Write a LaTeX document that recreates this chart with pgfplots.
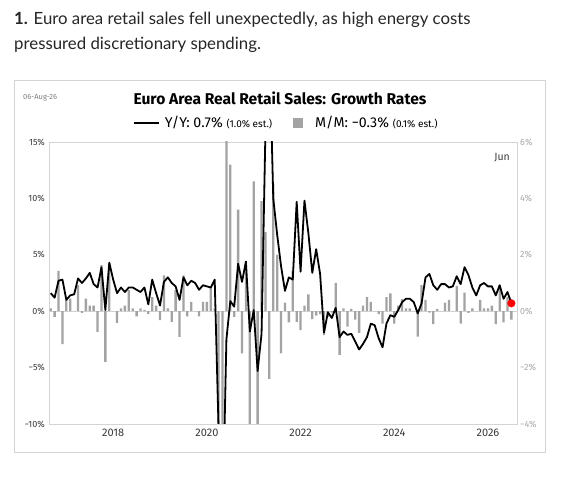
\documentclass[border=0pt]{standalone}
\usepackage{fontspec}
\setmainfont{Fira Sans}
\newfontfamily\capfont{Lato}
\usepackage{pgfplots}
\usepackage{pgfplotstable}
\pgfplotsset{compat=1.18}
\definecolor{bargray}{HTML}{A3A3A3}
\definecolor{framegray}{HTML}{D4D4D4}
\definecolor{ticktxt}{HTML}{3A3A3A}
\definecolor{rtick}{HTML}{A8A8A8}

% date (end of month), Y/Y %, M/M %
\pgfplotstableread{
x yy mm
2016.667 1.6 0.1
2016.750 1.2 -0.2
2016.833 2.7 1.43
2016.917 2.8 -1.17
2017.000 1.0 0.4
2017.083 1.4 0.45
2017.167 1.5 0.0
2017.250 2.9 0.92
2017.333 2.5 -0.06
2017.417 2.9 0.45
2017.500 3.4 0.2
2017.583 2.4 0.2
2017.667 2.1 -0.73
2017.750 3.9 1.63
2017.833 0.1 -1.8
2017.917 4.3 1.71
2018.000 2.8 0.0
2018.083 1.6 -0.41
2018.167 2.1 0.1
2018.250 1.7 0.2
2018.333 2.1 0.75
2018.417 2.1 0.1
2018.500 1.9 -0.18
2018.583 1.7 0.1
2018.667 2.1 0.05
2018.750 0.6 -0.1
2018.833 2.8 0.5
2018.917 1.6 0.2
2019.000 0.5 -0.32
2019.083 2.6 1.27
2019.167 3.0 0.1
2019.250 2.5 -0.38
2019.333 2.2 0.75
2019.417 1.0 -0.91
2019.500 3.0 1.27
2019.583 2.3 -0.18
2019.667 2.7 0.33
2019.750 2.5 0.0
2019.833 1.9 -0.18
2019.917 2.3 0.33
2020.000 2.2 0.33
2020.083 2.1 0.85
2020.167 2.8 0.1
2020.250 -10.5 -11
2020.333 -19 -12
2020.417 -2.5 19
2020.500 0.9 5.2
2020.583 0.4 -0.2
2020.667 4.2 3.6
2020.750 2.6 -1.5
2020.833 4.4 1.4
2020.917 -1.8 -6
2021.000 0.1 4.6
2021.083 -5.3 -6
2021.167 -2.0 3.9
2021.250 16 2.8
2021.333 24 -2.4
2021.417 10 4.5
2021.500 6.8 2.0
2021.583 4.0 -1.5
2021.667 1.8 0.3
2021.750 3.0 -0.4
2021.833 2.8 1.45
2021.917 9.7 -0.38
2022.000 3.5 -0.67
2022.083 9.8 0.2
2022.167 6.9 0.6
2022.250 3.4 -0.28
2022.333 5.5 -0.16
2022.417 3.3 -0.1
2022.500 -1.9 -0.85
2022.583 -0.1 -0.2
2022.667 -0.6 -0.05
2022.750 0.3 1.0
2022.833 -2.3 -1.55
2022.917 -1.8 0.1
2023.000 -2.1 -0.55
2023.083 -2.0 0.08
2023.167 -2.7 -0.3
2023.250 -3.4 -0.77
2023.333 -2.9 0.2
2023.417 -2.3 0.5
2023.500 -1.1 0.33
2023.583 -1.25 0.0
2023.667 -2.4 -0.1
2023.750 -3.2 -0.44
2023.833 -1.1 0.5
2023.917 -0.35 0.63
2024.000 -0.5 -0.44
2024.083 0.1 0.2
2024.167 0.8 0.43
2024.250 1.1 0.1
2024.333 1.1 0.1
2024.417 0.8 0.0
2024.500 -0.2 -0.9
2024.583 0.7 0.92
2024.667 3.0 0.4
2024.750 3.3 -0.05
2024.833 2.3 -0.46
2024.917 1.9 0.08
2025.000 2.4 0.0
2025.083 2.4 0.3
2025.167 2.1 0.4
2025.250 2.2 0.0
2025.333 3.1 0.9
2025.417 2.4 -0.44
2025.500 3.9 0.66
2025.583 3.2 -0.06
2025.667 2.1 0.1
2025.750 1.4 0.0
2025.833 2.3 0.4
2025.917 2.5 0.1
2026.000 2.2 0.1
2026.083 2.2 0.2
2026.167 1.4 -0.46
2026.250 2.3 0.92
2026.333 1.1 -0.4
2026.417 1.7 0.5
2026.500 0.7 -0.3
}\datatable

\begin{document}
\begin{tikzpicture}
\fill[white] (0pt,0pt) rectangle (568pt,478pt);
\useasboundingbox (0pt,0pt) rectangle (568pt,478pt);

% caption
\node[anchor=west,inner sep=0pt,text=black!85] at (14pt,458pt) {\capfont\fontsize{16.8}{19}\selectfont\textbf{1.} Euro area retail sales fell unexpectedly, as high energy costs};
\node[anchor=west,inner sep=0pt,text=black!85] at (14pt,433pt) {\capfont\fontsize{16.8}{19}\selectfont pressured discretionary spending.};

% box
\draw[framegray,line width=0.8pt] (14pt,26pt) rectangle (545pt,398pt);

% header
\node[anchor=west,inner sep=0pt,text=gray] at (23pt,380.5pt) {\fontsize{7.5}{9}\selectfont 06-Aug-26};
\node[inner sep=0pt] at (280pt,380pt) {\fontsize{15.6}{18}\selectfont\bfseries Euro Area Real Retail Sales: Growth Rates};

% M/M bars, right axis
\begin{axis}[
  at={(49pt,54pt)}, anchor=south west, scale only axis,
  width=468pt, height=282pt,
  xmin=2016.63, xmax=2026.62,
  ymin=-4, ymax=6,
  ytick={-4,-2,0,2,4,6},
  yticklabels={−4\%,−2\%,0\%,2\%,4\%,6\%},
  yticklabel pos=right,
  xtick=\empty,
  axis line style={framegray,line width=0.8pt},
  major tick length=0pt,
  tick style={draw=none},
  yticklabel style={font=\fontsize{9}{10}\selectfont, text=rtick, anchor=west, inner sep=0pt, xshift=3pt},
]
\draw[framegray,line width=0.8pt] (axis cs:2016.63,0) -- (axis cs:2026.62,0);
\addplot[ybar, bar width=2.3pt, fill=bargray, draw=none] table[x=x,y=mm] {\datatable};
\end{axis}

% Y/Y line, left axis
\begin{axis}[
  at={(49pt,54pt)}, anchor=south west, scale only axis,
  width=468pt, height=282pt,
  xmin=2016.63, xmax=2026.62,
  ymin=-10, ymax=15,
  ytick={-10,-5,0,5,10,15},
  yticklabels={−10\%,−5\%,0\%,5\%,10\%,15\%},
  xtick={2018,2020,2022,2024,2026},
  xticklabels={2018,2020,2022,2024,2026},
  axis line style={draw=none},
  major tick length=0pt,
  tick style={draw=none},
  yticklabel style={font=\fontsize{9}{10}\selectfont, text=ticktxt, anchor=east, inner sep=0pt, xshift=-4pt},
  xticklabel style={font=\fontsize{11}{13}\selectfont, text=ticktxt, anchor=north, inner sep=0pt, yshift=-5pt},
  legend style={draw=none, fill=none, at={(rel axis cs:0.180,1.068)}, anchor=west,
    font=\fontsize{14.2}{16}\selectfont, inner sep=0pt, column sep=3pt,
    /tikz/every even column/.append style={column sep=19pt}},
  legend columns=2,
  legend cell align=left,
]
\addplot[black, line width=1.8pt, line join=round,
  legend image code/.code={\draw[black,line width=1.5pt] (0pt,0pt) -- (25pt,0pt);}]
  table[x=x,y=yy] {\datatable};
\addlegendentry{Y/Y: 0.7\% {\fontsize{10}{11}\selectfont(1.0\% est.)}}
\addlegendimage{draw=none, fill=bargray, legend image code/.code={\fill[bargray,draw=none] (0pt,-5pt) rectangle (10pt,5pt); \path[draw=none,fill=none] (0pt,0pt) rectangle (17pt,0.1pt);}}
\addlegendentry{M/M: −0.3\% {\fontsize{10}{11}\selectfont(0.1\% est.)}}
\addplot[only marks, mark=*, mark size=3.8pt, color=red, forget plot] coordinates {(2026.5,0.7)};
\node[anchor=north east, inner sep=0pt, text=ticktxt, font=\fontsize{10.5}{12}\selectfont] at (rel axis cs:0.985,0.96) {Jun};
\end{axis}
\end{tikzpicture}
\end{document}
